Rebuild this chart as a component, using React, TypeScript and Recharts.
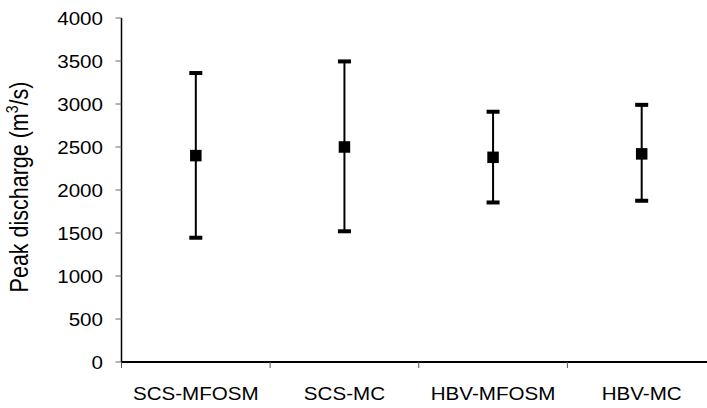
import React from 'react';
import { ComposedChart, Line, XAxis, YAxis, ErrorBar, Label } from 'recharts';

const categories = ['SCS-MFOSM', 'SCS-MC', 'HBV-MFOSM', 'HBV-MC'];
const meanValues = [2400, 2500, 2380, 2420];
const upperValues = [3360, 3495, 2910, 2990];
const lowerValues = [1445, 1520, 1855, 1875];
const yTicks = [0, 500, 1000, 1500, 2000, 2500, 3000, 3500, 4000];

const data = categories.map((name, i) => ({
  name,
  mean: meanValues[i],
  upper: upperValues[i],
  lower: lowerValues[i],
  err: [meanValues[i] - lowerValues[i], upperValues[i] - meanValues[i]],
}));

const FONT = '"Liberation Sans", Arial, sans-serif';
const STRETCH = 1.12;
const CHART_W = 740;
const CHART_H = 408;
const MARGIN = { top: 18, right: 24, left: 0, bottom: 0 };
const Y_AXIS_W = 121.5;
const PLOT_W = CHART_W - MARGIN.left - MARGIN.right - Y_AXIS_W;
const HALF_BAND = PLOT_W / categories.length / 2;

const YTick = (props: any) => {
  const { x, y, payload } = props;
  return (
    <g transform={`translate(${x},${y}) scale(${STRETCH},1)`}>
      <text x={0} y={0} dy="0.36em" textAnchor="end" fontSize={18.4} fontFamily={FONT} fill="#000">
        {payload.value}
      </text>
    </g>
  );
};

const XTick = (props: any) => {
  const { x, y, payload } = props;
  const off = payload && payload.offset ? payload.offset : HALF_BAND;
  return (
    <g>
      <line x1={x - off} x2={x - off} y1={y} y2={y + 6} stroke="#555" strokeWidth={1} />
      <g transform={`translate(${x},${y + 38}) scale(${STRETCH},1)`}>
        <text x={0} y={0} textAnchor="middle" fontSize={18.4} fontFamily={FONT} fill="#000">
          {payload.value}
        </text>
      </g>
    </g>
  );
};

const YLabel = (props: any) => {
  const vb = props.viewBox || { x: 0, y: 0, width: 0, height: 0 };
  const bx = 27.8;
  const cy = vb.y + vb.height / 2 - 3;
  return (
    <g transform={`translate(${bx},${cy}) scale(1.2,1) rotate(-90)`}>
      <text x={0} y={0} textAnchor="middle" fontSize={21.5} fontFamily={FONT} fill="#000">
        Peak discharge (m<tspan fontSize={14} dy={-8}>3</tspan><tspan dy={8}>/s)</tspan>
      </text>
    </g>
  );
};

const SquareDot = (props: any) => {
  const { cx, cy, index } = props;
  if (cx == null || cy == null) return <g key={`m${index}`} />;
  return <rect key={`m${index}`} x={cx - 5.75} y={cy - 5.75} width={11.5} height={11.5} fill="#000" />;
};

const CapDot = (props: any) => {
  const { cx, cy, index, dataKey } = props;
  if (cx == null || cy == null) return <g key={`c${dataKey}${index}`} />;
  return <rect key={`c${dataKey}${index}`} x={cx - 6.5} y={cy - 2} width={13} height={4} fill="#000" />;
};

export default function App() {
  return (
    <div style={{ position: 'absolute', left: 0, top: 0, width: 707, height: 408, overflow: 'hidden', background: '#fff' }}>
      <ComposedChart width={CHART_W} height={CHART_H} data={data} margin={MARGIN}>
        <XAxis
          dataKey="name"
          type="category"
          scale="band"
          height={46}
          axisLine={{ stroke: '#000', strokeWidth: 2 }}
          tickLine={false}
          tickSize={0}
          tickMargin={0}
          tick={<XTick />}
          interval={0}
        />
        <YAxis
          type="number"
          domain={[0, 4000]}
          ticks={yTicks}
          width={Y_AXIS_W}
          axisLine={{ stroke: '#000', strokeWidth: 1.5 }}
          tickLine={{ stroke: '#666', strokeWidth: 1 }}
          tickSize={6}
          tickMargin={12.5}
          tick={<YTick />}
          interval={0}
        >
          <Label content={<YLabel />} />
        </YAxis>
        <Line
          dataKey="mean"
          stroke="none"
          strokeWidth={0}
          isAnimationActive={false}
          dot={(p: any) => <SquareDot {...p} />}
          activeDot={false}
          legendType="none"
        >
          <ErrorBar dataKey="err" width={0} stroke="#000" strokeWidth={2} direction="y" isAnimationActive={false} />
        </Line>
        <Line
          dataKey="upper"
          stroke="none"
          strokeWidth={0}
          isAnimationActive={false}
          dot={(p: any) => <CapDot {...p} dataKey="upper" />}
          activeDot={false}
          legendType="none"
        />
        <Line
          dataKey="lower"
          stroke="none"
          strokeWidth={0}
          isAnimationActive={false}
          dot={(p: any) => <CapDot {...p} dataKey="lower" />}
          activeDot={false}
          legendType="none"
        />
      </ComposedChart>
    </div>
  );
}
